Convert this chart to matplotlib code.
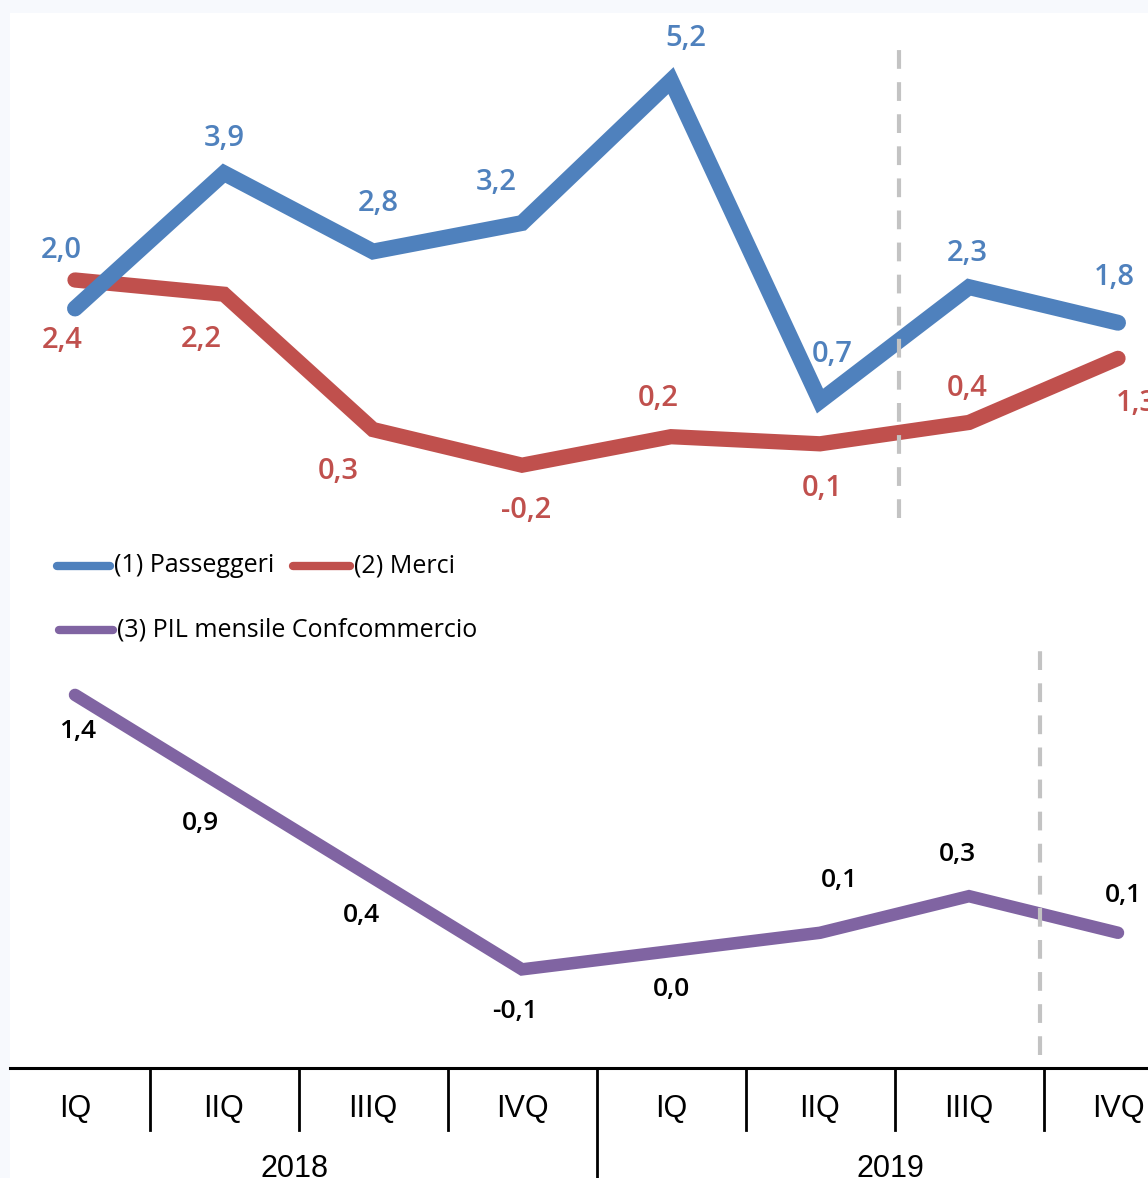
import matplotlib
matplotlib.use("Agg")
import matplotlib.pyplot as plt
from matplotlib.lines import Line2D
from matplotlib.patches import Rectangle

# ---------------- data ----------------
quarters = ["IQ", "IIQ", "IIIQ", "IVQ", "IQ", "IIQ", "IIIQ", "IVQ"]
years = ["2018", "2019"]
passeggeri = [2.0, 3.9, 2.8, 3.2, 5.2, 0.7, 2.3, 1.8]
merci = [2.4, 2.2, 0.3, -0.2, 0.2, 0.1, 0.4, 1.3]
pil = [1.4, 0.9, 0.4, -0.1, 0.0, 0.1, 0.3, 0.1]
series_names = ["(1) Passeggeri", "(2) Merci", "(3) PIL mensile Confcommercio"]

# label offsets in pixels (dx, dy; dy positive = up)
off_pass = [(-14, 58), (0, 35), (5, 48), (-26, 41), (15, 42), (12, 47), (-2, 34), (-4, 45)]
off_merci = [(-13, -60), (-23, -45), (-35, -42), (4, -45), (-13, 38), (2, -45), (-2, 34), (18, -45)]
off_pil = [(3, -37), (-24, -37), (-11, -38), (-7, -42), (0, -38), (19, 52), (-12, 42), (5, 37)]

BLUE = "#4F81BD"
RED = "#C0504D"
PURPLE = "#8064A2"
GRAY = "#C3C3C3"

W, H = 1148, 1178
fig = plt.figure(figsize=(W / 100, H / 100), dpi=100, facecolor="#F7F9FD")
fig.add_artist(Rectangle((10 / W, 0), 1, 1 - 13 / H, transform=fig.transFigure,
                         facecolor="white", edgecolor="none", zorder=0))


def px_axes(x0, y0, x1, y1):
    return fig.add_axes([x0 / W, 1 - y1 / H, (x1 - x0) / W, (y1 - y0) / H])


xs = list(range(len(quarters)))
xlim = ((10 - 75) / 149, (1148 - 75) / 149)

LBL_FONT = ["Open Sans", "DejaVu Sans"]
NARROW = ["Liberation Sans Narrow", "Liberation Sans", "DejaVu Sans"]

# ---------------- top panel ----------------
ax1 = px_axes(10, 30, 1148, 530)
ax1.set_xlim(*xlim)
ax1.set_ylim(-1.11, 5.91)
ax1.axis("off")
ax1.plot(xs, passeggeri, color=BLUE, lw=11.5, solid_capstyle="round",
         solid_joinstyle="miter", zorder=3)
ax1.plot(xs, merci, color=RED, lw=11, solid_capstyle="round",
         solid_joinstyle="miter", zorder=2)
ax1.axvline((899 - 75) / 149, ymin=0.024, ymax=0.964, color=GRAY, lw=3,
            dashes=(4.5, 3.2), zorder=4)


def fmt(v):
    return f"{v:.1f}".replace(".", ",")


for x, v, o in zip(xs, passeggeri, off_pass):
    ax1.annotate(fmt(v), (x, v), xytext=o, textcoords="offset pixels",
                 ha="center", va="center", color=BLUE, fontsize=21,
                 fontweight="semibold", family=LBL_FONT, annotation_clip=False)
for x, v, o in zip(xs, merci, off_merci):
    ax1.annotate(fmt(v), (x, v), xytext=o, textcoords="offset pixels",
                 ha="center", va="center", color=RED, fontsize=21,
                 fontweight="semibold", family=LBL_FONT, annotation_clip=False)

# ---------------- legend ----------------
def leg(x0, x1, y, color, text):
    fig.add_artist(Line2D([x0 / W, x1 / W], [1 - y / H, 1 - y / H], color=color,
                          lw=6, solid_capstyle="round", transform=fig.transFigure))
    fig.text((x1 + 4) / W, 1 - y / H, text, ha="left", va="center", fontsize=18,
             family=LBL_FONT, color="black")

leg(57, 110, 566, BLUE, series_names[0])
leg(293, 350, 566, RED, series_names[1])
leg(59, 113, 630, PURPLE, series_names[2])

# ---------------- bottom panel ----------------
ax2 = px_axes(10, 640, 1148, 1068)
ax2.set_xlim(*xlim)
ax2.set_ylim(-0.639, 1.70)
for s in ["top", "left", "right"]:
    ax2.spines[s].set_visible(False)
ax2.spines["bottom"].set_linewidth(2.2)
ax2.set_yticks([])
ax2.plot(xs, pil, color=PURPLE, lw=9, solid_capstyle="round",
         solid_joinstyle="miter", zorder=3)
ax2.axvline((1040 - 75) / 149, ymin=0.03, ymax=1.0, color=GRAY, lw=3,
            dashes=(4.5, 3.2), zorder=4)

for x, v, o in zip(xs, pil, off_pil):
    ax2.annotate(fmt(v), (x, v), xytext=o, textcoords="offset pixels",
                 ha="center", va="center", color="black", fontsize=19,
                 fontweight="semibold", family=LBL_FONT, annotation_clip=False)

# category axis
ax2.set_xticks(xs)
ax2.set_xticklabels(quarters, family=NARROW, fontsize=22)
ax2.tick_params(axis="x", length=0, pad=19)
trans = ax2.get_xaxis_transform()
for i in range(len(quarters) - 1):
    sep = i + 0.5
    bottom = -0.258 if i == 3 else -0.145
    ax2.plot([sep, sep], [0, bottom], transform=trans, color="black", lw=2,
             clip_on=False)
for k, yr in enumerate(years):
    ax2.text(1.47 + 4 * k, -0.236, yr, transform=trans, ha="center", va="center",
             fontsize=22, family=NARROW)

fig.savefig("out.png", dpi=100, facecolor=fig.get_facecolor())
